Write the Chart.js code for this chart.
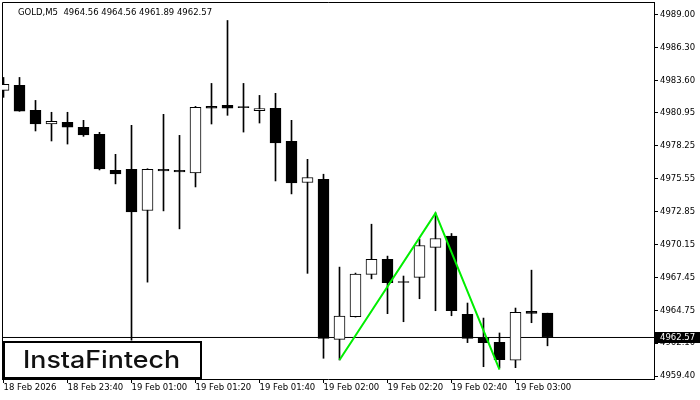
<!DOCTYPE html>
<html>
<head>
<meta charset="utf-8">
<script src="https://cdn.jsdelivr.net/npm/chart.js@4.4.1/dist/chart.umd.min.js"></script>
<style>
  body { margin: 0; background: #fff; }
  #wrap { width: 700px; height: 400px; }
</style>
</head>
<body>
<div id="wrap"><canvas id="goldChart" width="700" height="400"></canvas></div>
<script>
var symbol = 'GOLD,M5';

var times = [
  '18 Feb 23:20', '18 Feb 23:25', '18 Feb 23:30', '18 Feb 23:35', '18 Feb 23:40', '18 Feb 23:45',
  '18 Feb 23:50', '18 Feb 23:55', '19 Feb 01:00', '19 Feb 01:05', '19 Feb 01:10', '19 Feb 01:15',
  '19 Feb 01:20', '19 Feb 01:25', '19 Feb 01:30', '19 Feb 01:35', '19 Feb 01:40', '19 Feb 01:45',
  '19 Feb 01:50', '19 Feb 01:55', '19 Feb 02:00', '19 Feb 02:05', '19 Feb 02:10', '19 Feb 02:15',
  '19 Feb 02:20', '19 Feb 02:25', '19 Feb 02:30', '19 Feb 02:35', '19 Feb 02:40', '19 Feb 02:45',
  '19 Feb 02:50', '19 Feb 02:55', '19 Feb 03:00', '19 Feb 03:05', '19 Feb 03:10'
];
var opens = [
  4982.79, 4983.20, 4981.16, 4980.04, 4980.18, 4979.77, 4979.20, 4976.25, 4976.34, 4972.96,
  4976.34, 4976.25, 4976.03, 4981.48, 4981.57, 4981.42, 4981.13, 4981.32, 4978.62, 4975.25,
  4975.52, 4962.42, 4964.27, 4967.73, 4968.96, 4967.12, 4967.49, 4969.94, 4970.86, 4964.47,
  4962.59, 4962.18, 4960.71, 4964.71, 4964.56
];
var highs = [
  4983.85, 4983.85, 4981.97, 4981.00, 4981.00, 4980.34, 4979.36, 4977.56, 4979.93, 4976.38,
  4980.83, 4979.11, 4981.48, 4983.36, 4988.51, 4983.36, 4982.38, 4982.55, 4980.34, 4977.15,
  4975.93, 4968.33, 4967.84, 4971.84, 4969.23, 4967.60, 4970.62, 4972.77, 4971.08, 4965.39,
  4964.16, 4962.94, 4964.98, 4968.08, 4964.56
];
var lows = [
  4982.22, 4981.08, 4979.47, 4978.65, 4978.40, 4979.03, 4976.28, 4975.14, 4962.35, 4967.10,
  4972.93, 4971.46, 4974.89, 4980.04, 4980.75, 4979.38, 4980.12, 4975.38, 4974.32, 4967.82,
  4960.87, 4960.73, 4964.24, 4967.37, 4964.52, 4963.86, 4965.74, 4964.76, 4964.35, 4962.15,
  4960.18, 4960.08, 4960.10, 4963.78, 4961.89
];
var closes = [
  4983.28, 4981.10, 4980.04, 4980.26, 4979.79, 4979.14, 4976.36, 4975.95, 4972.85, 4976.34,
  4976.20, 4976.12, 4981.40, 4981.34, 4981.34, 4981.38, 4981.30, 4978.49, 4975.22, 4975.66,
  4962.50, 4964.33, 4967.76, 4968.96, 4967.05, 4967.07, 4970.10, 4970.67, 4964.76, 4962.50,
  4962.15, 4960.76, 4964.63, 4964.55, 4962.57
];

var yTicks = [4989.00, 4986.30, 4983.60, 4980.95, 4978.25, 4975.55, 4972.85, 4970.15, 4967.45, 4964.75, 4962.10, 4959.40];
var xTickIndex = [0, 4, 8, 12, 16, 20, 24, 28, 32];
var xTickLabels = ['18 Feb 2026', '18 Feb 23:40', '19 Feb 01:00', '19 Feb 01:20', '19 Feb 01:40',
  '19 Feb 02:00', '19 Feb 02:20', '19 Feb 02:40', '19 Feb 03:00'];

// double top pattern: bar index and price of each corner
var patternIndex = [21, 27, 31];
var patternPrice = [4960.73, 4972.75, 4959.95];

var last = closes.length - 1;
var bodies = [], wicks = [], bodyColors = [];
for (var i = 0; i < times.length; i++) {
  bodies.push({ x: i, y: [opens[i], closes[i]] });
  wicks.push({ x: i, y: [lows[i], highs[i]] });
  bodyColors.push(closes[i] >= opens[i] ? '#ffffff' : '#000000');
}
var pattern = patternIndex.map(function (k, j) { return { x: k, y: patternPrice[j] }; });
var priceLine = [{ x: -1, y: closes[last] }, { x: 45, y: closes[last] }];

var uiFont = 'DejaVu Sans';

var decor = {
  id: 'decor',
  beforeDatasetsDraw: function (chart) {
    var c = chart.ctx, a = chart.chartArea;
    c.save();
    c.strokeStyle = '#000';
    c.lineWidth = 1;
    c.beginPath();
    c.moveTo(a.left + 0.5, a.bottom);
    c.lineTo(a.left + 0.5, a.top + 0.5);
    c.lineTo(a.right, a.top + 0.5);
    c.stroke();
    c.restore();
  },
  afterDraw: function (chart) {
    var c = chart.ctx;
    var y = chart.scales.y;
    c.save();
    // header
    c.fillStyle = '#000';
    c.font = '8.5px "' + uiFont + '"';
    c.textBaseline = 'alphabetic';
    c.textAlign = 'left';
    c.fillText(symbol + '  ' + opens[last].toFixed(2) + ' ' + highs[last].toFixed(2) + ' ' +
      lows[last].toFixed(2) + ' ' + closes[last].toFixed(2), 18, 15);

    // current price tag
    var py = Math.round(y.getPixelForValue(closes[last]));
    c.fillStyle = '#000';
    c.fillRect(655, py - 5, 45, 11);
    c.fillStyle = '#fff';
    c.textBaseline = 'middle';
    c.fillText(closes[last].toFixed(2), 660, py + 0.5);

    // logo
    c.fillStyle = '#000';
    c.fillRect(3, 341, 199, 38);
    c.fillStyle = '#fff';
    c.fillRect(5, 343, 195, 34);
    c.fillStyle = '#111';
    c.font = '500 24px Inter';
    c.textBaseline = 'alphabetic';
    var w = c.measureText('InstaFintech').width;
    c.translate(23, 368);
    c.scale(157 / w, 1);
    c.fillText('InstaFintech', 0, 0);
    c.restore();
  }
};

var ctx = document.getElementById('goldChart').getContext('2d');
var chart = new Chart(ctx, {
  type: 'bar',
  data: {
    datasets: [
      {
        type: 'line', data: pattern, borderColor: '#00ee00', borderWidth: 2,
        pointRadius: 0, tension: 0, order: 0
      },
      {
        data: bodies, backgroundColor: bodyColors, borderColor: '#000', borderWidth: 1,
        borderSkipped: false, barThickness: 11, minBarLength: 1, grouped: false, order: 1
      },
      {
        data: wicks, backgroundColor: '#000', borderWidth: 0,
        barThickness: 1, grouped: false, order: 2
      },
      {
        type: 'line', data: priceLine, borderColor: '#000', borderWidth: 1,
        pointRadius: 0, order: 3
      }
    ]
  },
  options: {
    responsive: false,
    animation: false,
    layout: { padding: { left: 2, top: 2, right: 0, bottom: 0 } },
    plugins: { legend: { display: false }, tooltip: { enabled: false } },
    scales: {
      x: {
        type: 'linear', min: -0.09375, max: 40.65625, offset: false, position: 'bottom',
        grid: { drawOnChartArea: false, drawTicks: true, tickLength: 4, color: '#000', offset: false },
        border: { display: true, color: '#000' },
        ticks: {
          align: 'start', maxRotation: 0, autoSkip: false, padding: 0, color: '#000',
          font: { family: uiFont, size: 8.5 },
          callback: function (v, i) { return xTickLabels[i]; }
        },
        afterBuildTicks: function (s) { s.ticks = xTickIndex.map(function (v) { return { value: v }; }); },
        afterFit: function (s) { s.height = 21; s.paddingLeft = 0; s.paddingRight = 0; }
      },
      y: {
        type: 'linear', position: 'right', min: 4959.174, max: 4990.023,
        grid: { drawOnChartArea: false, drawTicks: true, tickLength: 4, color: '#000' },
        border: { display: true, color: '#000' },
        ticks: {
          padding: 2, color: '#000', autoSkip: false,
          font: { family: uiFont, size: 8.5 },
          callback: function (v) { return v.toFixed(2); }
        },
        afterBuildTicks: function (s) { s.ticks = yTicks.map(function (v) { return { value: v }; }); },
        afterFit: function (s) { s.width = 46; s.paddingTop = 0; s.paddingBottom = 0; }
      }
    }
  },
  plugins: [decor]
});
</script>
</body>
</html>
